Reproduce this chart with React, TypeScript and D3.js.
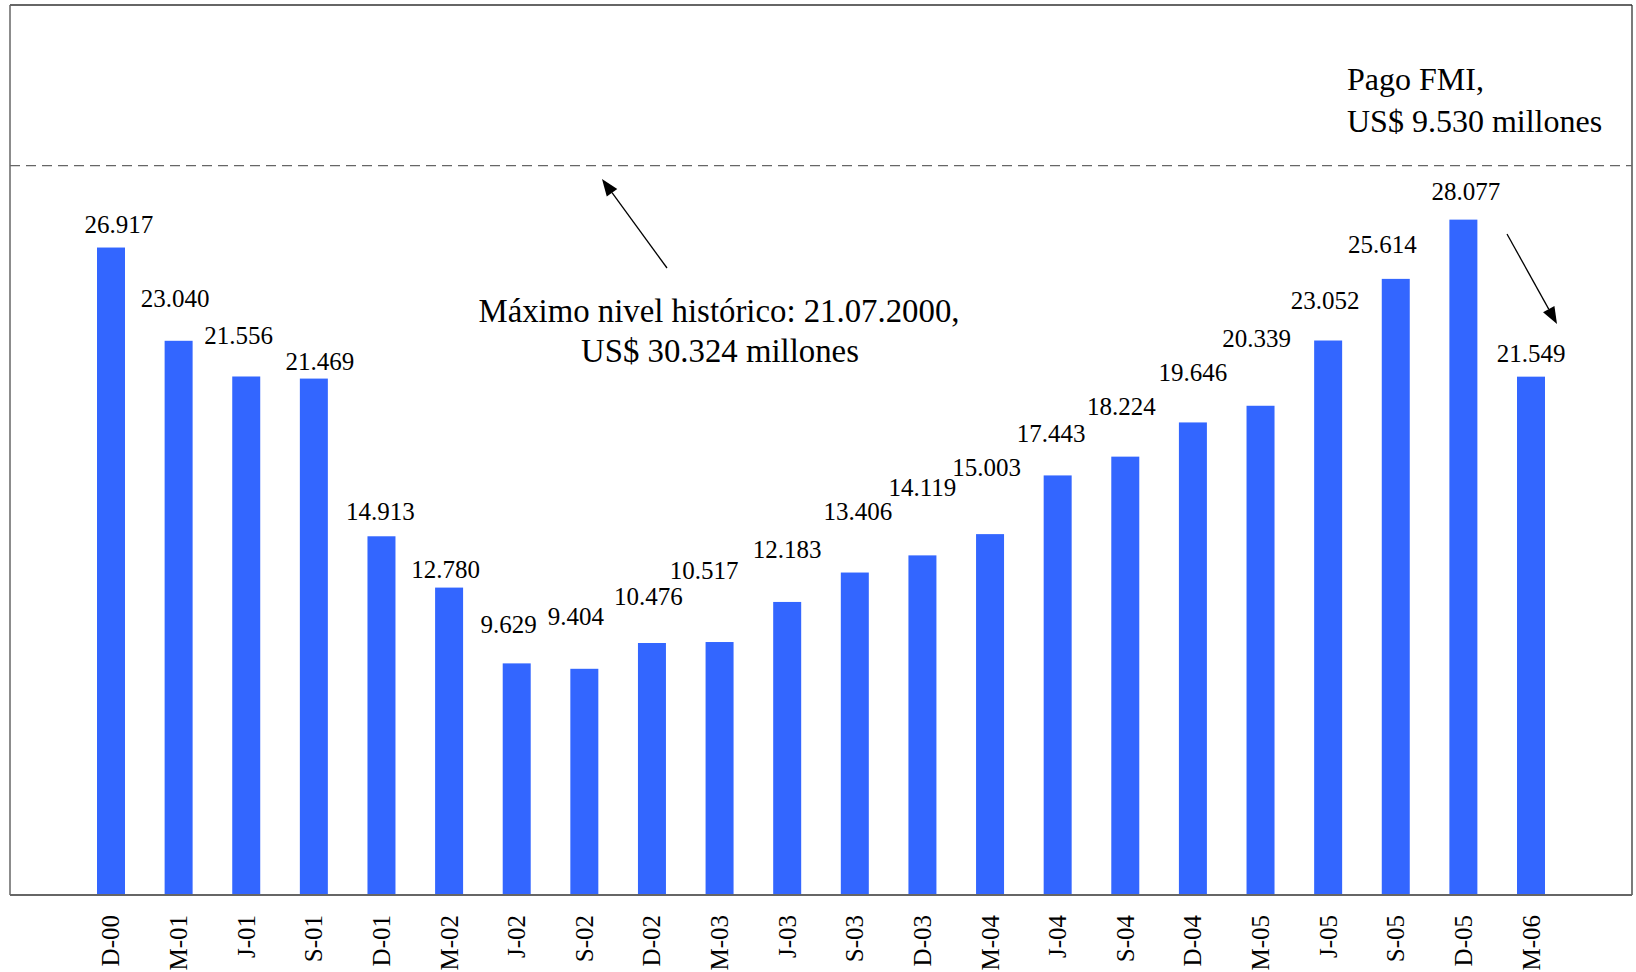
import React from "react";
import * as d3 from "d3";

const categories = ["D-00","M-01","J-01","S-01","D-01","M-02","J-02","S-02","D-02","M-03","J-03","S-03","D-03","M-04","J-04","S-04","D-04","M-05","J-05","S-05","D-05","M-06"];
const reserves = [26917,23040,21556,21469,14913,12780,9629,9404,10476,10517,12183,13406,14119,15003,17443,18224,19646,20339,23052,25614,28077,21549];
const historicMax = 30324;
const yMax = 37000;
// label placement offsets relative to bar top (dx, gap above bar), px
const labelDx = [8,-3.5,-7.5,6,-1,-3.5,-8,-8.5,-3.5,-15.5,0,3,0,-3.5,-6.5,-4,0,-4,-3,-13.5,2.5,0];
const labelGap = [15,34,32,9,16,10,30,44,38,63,44,53,59,58,33,42,41,59,32,26,20,15];

const fmt = (v: number) => {
  const s = String(Math.round(v));
  return s.replace(/\B(?=(\d{3})+(?!\d))/g, ".");
};

const W = 1636, H = 972;
const frameL = 10, frameR = 1632, frameT = 5, baseY = 895;
const FONT = "'Liberation Serif', 'Times New Roman', serif";

export default function App() {
  const x = d3.scaleBand<string>().domain(categories).range([97, 1545]).paddingInner(0.586).paddingOuter(0);
  const y = d3.scaleLinear().domain([0, yMax]).range([baseY, frameT]);
  const bw = x.bandwidth();

  const arrow = (x1: number, y1: number, x2: number, y2: number) => {
    const ang = Math.atan2(y2 - y1, x2 - x1);
    const L = 17, Wd = 6.5;
    const bx = x2 - L * Math.cos(ang), by = y2 - L * Math.sin(ang);
    const px = -Math.sin(ang) * Wd, py = Math.cos(ang) * Wd;
    return (
      <g>
        <line x1={x1} y1={y1} x2={bx} y2={by} stroke="#000" strokeWidth={1.3} />
        <path d={`M${x2},${y2}L${bx + px},${by + py}L${bx - px},${by - py}Z`} fill="#000" />
      </g>
    );
  };

  return (
    <svg width={W} height={H} style={{ position: "absolute", left: 0, top: 0, background: "#fff" }} fontFamily={FONT}>
      <rect x={0} y={0} width={W} height={H} fill="#fff" />
      {/* frame */}
      <line x1={frameL} y1={frameT} x2={frameR} y2={frameT} stroke="#333" strokeWidth={1.3} />
      <line x1={frameL} y1={frameT} x2={frameL} y2={baseY} stroke="#666" strokeWidth={1.5} />
      <line x1={frameR} y1={frameT} x2={frameR} y2={baseY} stroke="#333" strokeWidth={1.3} />
      {/* historic max dashed line */}
      <line x1={frameL} y1={y(historicMax)} x2={frameR} y2={y(historicMax)} stroke="#666" strokeWidth={1.3} strokeDasharray="10 6" />
      {/* bars */}
      {reserves.map((v, i) => (
        <rect key={categories[i]} x={x(categories[i])} y={y(v)} width={bw} height={baseY - y(v)} fill="#3366FF" />
      ))}
      {/* baseline */}
      <line x1={frameL} y1={baseY} x2={frameR} y2={baseY} stroke="#666" strokeWidth={2} />
      {/* value labels */}
      {reserves.map((v, i) => (
        <text key={"l" + i} x={(x(categories[i]) as number) + bw / 2 + labelDx[i]} y={y(v) - labelGap[i]} textAnchor="middle" fontSize={25} fill="#000">
          {fmt(v)}
        </text>
      ))}
      {/* category labels */}
      {categories.map((c) => {
        const cx = (x(c) as number) + bw / 2;
        return (
          <text key={"c" + c} transform={`translate(${cx + 8.5},915) rotate(-90)`} textAnchor="end" fontSize={25} fill="#000">
            {c}
          </text>
        );
      })}
      {/* annotations */}
      <text x={719} y={322} textAnchor="middle" fontSize={32.8} fill="#000">Máximo nivel histórico: 21.07.2000,</text>
      <text x={720} y={362} textAnchor="middle" fontSize={32.8} fill="#000">US$ 30.324 millones</text>
      <text x={1347} y={90} fontSize={32} fill="#000">Pago FMI,</text>
      <text x={1347} y={132} fontSize={32} fill="#000">US$ 9.530 millones</text>
      {arrow(667, 268, 602, 179)}
      {arrow(1507, 234, 1557, 324)}
    </svg>
  );
}
